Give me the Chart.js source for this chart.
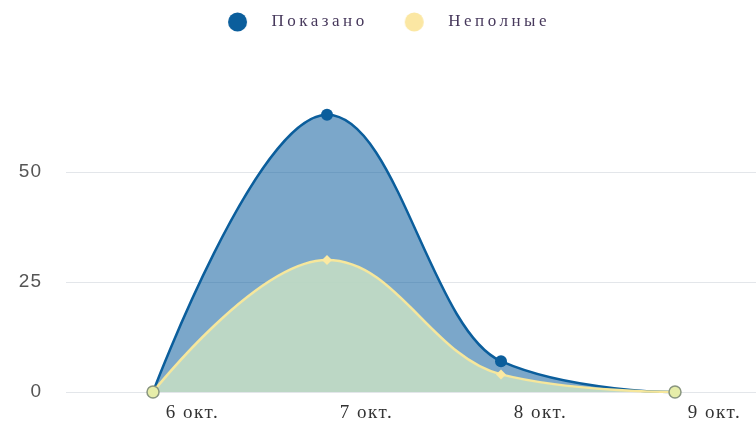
<!DOCTYPE html>
<html><head><meta charset="utf-8">
<script src="https://cdn.jsdelivr.net/npm/chart.js@4.4.1/dist/chart.umd.min.js"></script>
<style>
html,body{margin:0;padding:0;overflow:hidden;background:#fff;width:756px;height:432px}
#c{display:block}
</style></head>
<body><canvas id="c" width="780" height="432"></canvas>
<script>
const categories = ['6 окт.', '7 окт.', '8 окт.', '9 окт.'];
const seriesNames = ['Показано', 'Неполные'];
const shownValues = [0, 63, 7, 0];
const incompleteValues = [0, 30, 4, 0];
const yTickValues = [0, 25, 50];

const BLUE = '#0b5e9c';
const YELLOW = '#fbe7a3';
const legendColors = [BLUE, YELLOW];

// legend symbol: a circle centred in a wider box
const LEG_W = 51, LEG_R = 9.5;
function legendSymbol(color) {
  const c = document.createElement('canvas');
  c.width = LEG_W; c.height = 22;
  const g = c.getContext('2d');
  g.fillStyle = color;
  g.beginPath();
  g.arc(LEG_W / 2, 11, LEG_R, 0, Math.PI * 2);
  g.fill();
  return c;
}
const legendSymbols = legendColors.map(legendSymbol);

function wrapSpacing(obj, name, sp, dy) {
  const orig = obj[name];
  obj[name] = function (...a) {
    const ctx = this.ctx;
    ctx.save();
    ctx.letterSpacing = sp;
    if (dy) ctx.translate(0, dy);
    const r = orig.apply(this, a);
    ctx.restore();
    return r;
  };
}

// Highcharts-like spline control points, computed from the points placed by the scales
function splineControls(points) {
  const sm = 1.5, den = sm + 1;
  for (let i = 0; i < points.length; i++) {
    const p = points[i];
    const prev = points[i - 1], next = points[i + 1];
    if (prev && next) {
      let lx = (sm * p.x + prev.x) / den, ly = (sm * p.y + prev.y) / den;
      let rx = (sm * p.x + next.x) / den, ry = (sm * p.y + next.y) / den;
      let corr = 0;
      if (rx !== lx) corr = ((ry - ly) * (rx - p.x)) / (rx - lx) + p.y - ry;
      ly += corr; ry += corr;
      if (ly > prev.y && ly > p.y) { ly = Math.max(prev.y, p.y); ry = 2 * p.y - ly; }
      else if (ly < prev.y && ly < p.y) { ly = Math.min(prev.y, p.y); ry = 2 * p.y - ly; }
      if (ry > next.y && ry > p.y) { ry = Math.max(next.y, p.y); ly = 2 * p.y - ry; }
      else if (ry < next.y && ry < p.y) { ry = Math.min(next.y, p.y); ly = 2 * p.y - ry; }
      p.cp1x = lx; p.cp1y = ly; p.cp2x = rx; p.cp2y = ry;
    } else {
      p.cp1x = p.x; p.cp1y = p.y; p.cp2x = p.x; p.cp2y = p.y;
    }
  }
}

const customPlugin = {
  id: 'custom',
  afterInit(chart) {
    const lg = chart.legend;
    wrapSpacing(lg, 'fit', '3.5px');
    wrapSpacing(lg, 'draw', '3.5px', -7.5);
    const f = lg.fit;
    lg.fit = function () { f.call(this); this.height = 62; };
  },
  beforeDraw(chart) {
    const x = chart.scales.x;
    if (x && !x._sp) { wrapSpacing(x, 'drawLabels', '1.5px'); x._sp = true; }
    const y = chart.scales.y;
    if (y && !y._sp) { wrapSpacing(y, 'drawLabels', '1px'); y._sp = true; }
  },
  beforeDatasetsDraw(chart) {
    chart.getSortedVisibleDatasetMetas().forEach(meta => {
      meta.dataset.updateControlPoints(chart.chartArea, 'x');
      splineControls(meta.data);
      meta.dataset._path = undefined;
    });
  }
};

new Chart(document.getElementById('c'), {
  type: 'line',
  data: {
    labels: categories,
    datasets: [
      {
        label: seriesNames[0],
        data: shownValues,
        order: 1,
        borderColor: BLUE,
        borderWidth: 2.5,
        backgroundColor: 'rgba(14,94,158,0.55)',
        fill: 'origin',
        tension: 0.4,
        pointRadius: 6,
        pointHoverRadius: 6,
        pointBackgroundColor: BLUE,
        pointBorderWidth: 0,
        clip: false
      },
      {
        label: seriesNames[1],
        data: incompleteValues,
        order: 0,
        borderColor: '#f6e79c',
        borderWidth: 2.5,
        backgroundColor: 'rgba(200,225,196,0.85)',
        fill: 'origin',
        tension: 0.4,
        pointStyle: ['circle', 'rectRot', 'rectRot', 'circle'],
        pointRadius: [6, 5, 5, 6],
        pointBackgroundColor: ['#e6eda9', '#fbe9a2', '#fbe9a2', '#e6eda9'],
        pointBorderColor: ['#8a9680', '#fbe9a2', '#fbe9a2', '#8a9680'],
        pointBorderWidth: [1.5, 0, 0, 1.5],
        clip: false
      }
    ]
  },
  options: {
    responsive: false,
    animation: false,
    layout: { padding: { left: 0, right: 18, top: 0, bottom: 0 } },
    plugins: {
      tooltip: { enabled: false },
      legend: {
        position: 'top',
        labels: {
          usePointStyle: true,
          pointStyleWidth: LEG_W,
          padding: 21,
          color: '#47395c',
          font: { family: "'Liberation Serif', 'Times New Roman', serif", size: 17 },
          sort: (a, b) => a.datasetIndex - b.datasetIndex,
          generateLabels(chart) {
            const items = Chart.defaults.plugins.legend.labels.generateLabels(chart);
            return items.map(it => Object.assign(it, {
              fillStyle: legendColors[it.datasetIndex],
              strokeStyle: legendColors[it.datasetIndex],
              lineWidth: 0,
              pointStyle: legendSymbols[it.datasetIndex]
            }));
          }
        }
      }
    },
    scales: {
      x: {
        offset: true,
        grid: { display: false, drawTicks: false },
        border: { display: false },
        ticks: {
          color: '#333333',
          labelOffset: 39.5,
          padding: 10,
          maxRotation: 0,
          font: { family: "'Liberation Serif', 'Times New Roman', serif", size: 19 }
        },
        afterFit(s) { s.height = 40; }
      },
      y: {
        min: 0,
        max: 75,
        grid: {
          drawTicks: false,
          color: ctx => (yTickValues.includes(ctx.tick.value) ? '#e3e6ea' : 'rgba(0,0,0,0)'),
          lineWidth: 1
        },
        border: { display: false },
        ticks: {
          stepSize: 25,
          padding: 24,
          color: '#555555',
          font: { family: "'Liberation Sans', Arial, sans-serif", size: 19 },
          callback: v => (yTickValues.includes(v) ? String(v) : '')
        },
        afterFit(s) { s.width = 66; }
      }
    }
  },
  plugins: [customPlugin]
});
</script>
</body></html>
